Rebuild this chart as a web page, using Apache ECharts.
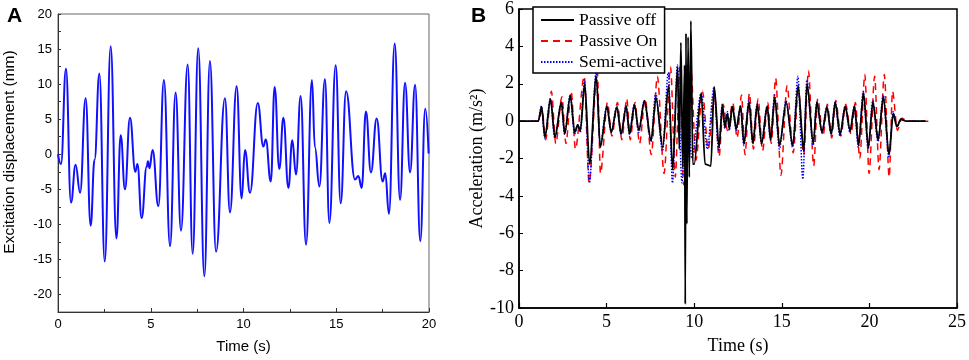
<!DOCTYPE html>
<html lang="en">
<head>
    <meta charset="UTF-8">
    <title>Excitation and acceleration</title>
    <script src="https://cdn.jsdelivr.net/npm/echarts@6/dist/echarts.min.js"></script>
    <style>
        html, body { margin: 0; padding: 0; background: #fff; }
    </style>
</head>
<body>
<div id="chart" style="width: 969px; height: 360px;"></div>

<script>
    // panel A: excitation displacement (mm) vs time (s), peaks and troughs
    var excitation = [
        [0, 0], [0.16, -1.4], [0.43, 12.2], [0.70, -6.9], [0.95, -1.5], [1.19, -5.5],
        [1.49, 8.0], [1.76, -10.2], [1.97, -0.8], [2.23, 11.5], [2.52, -15.3], [2.84, 15.4],
        [3.15, -12.0], [3.38, 2.7], [3.61, -5.0], [3.88, 5.2], [4.17, -2.5], [4.28, -1.4],
        [4.51, -9.1], [4.78, -1.8], [4.85, -1.0], [4.93, -2.0], [5.10, 0.6], [5.41, -7.4],
        [5.71, 10.6], [6.04, -13.1], [6.34, 8.8], [6.63, -10.9], [6.99, 12.8], [7.26, -14.2],
        [7.56, 15.1], [7.89, -17.4], [8.19, 13.3], [8.52, -13.9], [9.00, 8.0], [9.27, -8.3],
        [9.63, 9.7], [9.90, -6.3], [10.08, 0.6], [10.35, -5.5], [10.77, 7.3], [11.07, 1.1],
        [11.20, 2.1], [11.47, -3.9], [11.68, 9.6], [11.93, -2.1], [12.15, 5.2], [12.42, -4.8],
        [12.63, 2.0], [12.83, -2.9], [13.08, 8.3], [13.37, -12.9], [13.69, 10.6], [13.85, 1.0],
        [14.09, -4.6], [14.39, 10.7], [14.63, -9.8], [14.97, 12.7], [15.24, -7.0], [15.53, 9.0],
        [16.01, -3.6], [16.19, -3.1], [16.37, -4.8], [16.60, 6.1], [16.87, -2.6], [17.18, 5.1],
        [17.50, -3.9], [17.64, -2.7], [17.84, -8.5], [18.15, 15.8], [18.44, -6.5], [18.71, 10.2],
        [18.98, -2.6], [19.25, 9.9], [19.53, -12.4], [19.80, 6.5], [19.98, 0.1]
    ];

    // panel B: acceleration (m/s^2) vs time (s)
    var passiveOff = [
        [0, 0], [1.1, 0], [1.29, 0.77], [1.48, -0.86], [1.8, 1.18], [2.05, -0.86], [2.42, 1.0],
        [2.61, -0.68], [2.93, 1.36], [3.18, -0.6], [3.35, -0.2], [3.5, -0.5], [3.75, 2.0],
        [4.03, -2.3], [4.41, 2.4], [4.64, -1.4], [5.02, 0.77], [5.27, -0.6], [5.59, 0.75],
        [5.83, -0.7], [6.12, 0.8], [6.31, -0.7], [6.59, 0.87], [6.84, -0.5], [7.16, 1.09],
        [7.54, -1.04], [7.82, 1.25], [8.2, -1.4], [8.54, 1.9], [8.77, -2.6], [9.05, 2.9],
        [9.15, -1.5], [9.24, 4.2], [9.35, -2.5], [9.45, 3.0], [9.49, -9.8], [9.53, 4.7],
        [9.58, -5.5], [9.65, 4.5], [9.72, -3.0], [9.81, 5.36], [9.92, -2.3], [10.0, -2.3],
        [10.4, 1.5], [10.62, -2.3], [10.95, -2.4], [11.14, 1.84], [11.42, -1.4], [11.61, 0.87],
        [11.75, -0.3], [11.9, 0.4], [12.0, -0.4], [12.18, 0.77], [12.4, -0.4], [12.65, 0.8],
        [12.84, -1.2], [13.13, 1.0], [13.35, -1.2], [13.6, 0.9], [13.85, -1.2], [14.17, 0.8],
        [14.36, -1.0], [14.6, 1.25], [14.87, -1.3], [15.25, 1.0], [15.63, -1.3], [15.93, 1.9],
        [16.25, -1.6], [16.44, 2.0], [16.8, -1.2], [17.0, 1.0], [17.3, -0.6], [17.58, 0.75],
        [17.82, -0.7], [18.05, 1.0], [18.33, -0.7], [18.62, 0.8], [18.9, -0.5], [19.15, 0.8],
        [19.38, -1.3], [19.66, 1.5], [19.94, -1.4], [20.2, 1.0], [20.5, -1.0], [20.8, 1.3],
        [21.12, -1.8], [21.36, 0.4], [21.57, -0.3], [21.8, 0.1], [22.1, 0], [23.2, 0]
    ];
    var passiveOn = [
        [0, 0], [1.1, 0], [1.32, 0.6], [1.52, -1.0], [1.85, 1.6], [2.1, -1.2], [2.45, 1.3],
        [2.68, -1.2], [2.98, 1.6], [3.22, -1.5], [3.72, 2.4], [4.0, -3.3], [4.47, 2.7],
        [4.65, -2.8], [5.05, 1.0], [5.3, -0.8], [5.62, 1.0], [5.87, -1.0], [6.15, 1.2],
        [6.35, -1.0], [6.62, 1.0], [6.88, -1.2], [7.2, 1.2], [7.55, -1.8], [7.9, 2.4],
        [8.28, -2.8], [8.65, 2.9], [8.92, -3.0], [9.18, 2.9], [9.4, -3.4], [9.8, 3.0],
        [10.1, -2.1], [10.47, 1.6], [10.8, -1.5], [11.15, 1.5], [11.42, -1.9], [11.65, 0.9],
        [11.9, -0.5], [12.2, 1.0], [12.45, -0.9], [12.7, 1.4], [12.9, -1.8], [13.15, 1.5],
        [13.38, -1.5], [13.65, 1.2], [13.9, -1.6], [14.2, 1.0], [14.4, -1.2], [14.65, 2.3],
        [14.95, -2.9], [15.3, 1.9], [15.65, -1.7], [15.95, 1.7], [16.25, -1.8], [16.52, 2.7],
        [16.82, -2.4], [17.05, 1.2], [17.35, -0.8], [17.6, 0.9], [17.85, -0.9], [18.08, 1.1],
        [18.37, -0.8], [18.65, 0.9], [18.95, -0.7], [19.2, 1.0], [19.45, -2.0], [19.74, 2.5],
        [19.98, -2.8], [20.3, 2.4], [20.55, -2.6], [20.85, 2.5], [21.13, -3.0], [21.32, 1.6],
        [21.6, -0.5], [21.85, 0.15], [22.2, 0], [23.45, 0]
    ];
    var semiActive = [
        [0, 0], [1.1, 0], [1.28, 0.8], [1.47, -0.9], [1.79, 1.2], [2.04, -0.9], [2.41, 1.0],
        [2.6, -0.7], [2.92, 1.4], [3.17, -0.7], [3.35, -0.2], [3.5, -0.6], [3.74, 2.2],
        [4.02, -3.3], [4.4, 2.6], [4.63, -1.3], [5.01, 0.8], [5.26, -0.6], [5.58, 0.8],
        [5.82, -0.7], [6.11, 0.8], [6.3, -0.7], [6.58, 0.9], [6.83, -0.6], [7.15, 1.1],
        [7.53, -1.1], [7.8, 1.5], [8.19, -1.6], [8.52, 2.6], [8.76, -3.3], [9.04, 3.0],
        [9.3, -3.3], [9.6, 3.0], [9.85, -2.0], [10.4, 1.5], [10.75, -1.5], [11.12, 1.8],
        [11.4, -1.6], [11.6, 0.9], [11.75, -0.4], [11.9, 0.5], [12.0, -0.5], [12.17, 0.8],
        [12.4, -0.5], [12.64, 0.8], [12.83, -1.3], [13.12, 1.1], [13.34, -1.2], [13.59, 0.9],
        [13.84, -1.2], [14.16, 0.8], [14.35, -1.0], [14.59, 1.4], [14.86, -1.5], [15.24, 1.1],
        [15.62, -1.4], [15.92, 2.4], [16.2, -3.1], [16.43, 2.2], [16.79, -1.3], [16.99, 1.0],
        [17.29, -0.6], [17.57, 0.8], [17.81, -0.7], [18.04, 1.0], [18.32, -0.8], [18.61, 0.8],
        [18.89, -0.6], [19.14, 0.8], [19.37, -1.4], [19.65, 1.6], [19.93, -1.5], [20.19, 1.1],
        [20.49, -1.1], [20.79, 1.4], [21.11, -1.9], [21.35, 0.5], [21.56, -0.3], [21.8, 0.1],
        [22.1, 0], [23.2, 0]
    ];

    var sans = 'Liberation Sans, Arial, sans-serif';
    var serif = 'Liberation Serif, Times New Roman, serif';

    var chart = echarts.init(document.getElementById('chart'), null, { renderer: 'canvas' });

    chart.setOption({
        backgroundColor: '#fff',
        animation: false,
        title: [
            { text: 'A', left: 2, top: 1, textStyle: { fontFamily: sans, fontSize: 21, fontWeight: 'bold', color: '#000' } },
            { text: 'B', left: 466, top: 1, textStyle: { fontFamily: sans, fontSize: 21, fontWeight: 'bold', color: '#000' } }
        ],
        legend: {
            left: 533,
            top: 7,
            orient: 'vertical',
            itemWidth: 33,
            itemHeight: 14,
            itemGap: 3,
            padding: [4, 2, 2, 7],
            borderColor: '#000',
            borderWidth: 1.5,
            borderRadius: 0,
            backgroundColor: '#fff',
            // hide the marker that ECharts puts on the legend line
            itemStyle: { opacity: 0 },
            textStyle: { fontFamily: serif, fontSize: 17.5, color: '#000' },
            data: ['Passive off', 'Passive On', 'Semi-active']
        },
        grid: [
            { left: 58, top: 14, width: 371, height: 298, show: true, borderColor: '#666', borderWidth: 1, backgroundColor: 'transparent' },
            { left: 519, top: 7, width: 440, height: 301, show: true, borderColor: '#000', borderWidth: 1.5, backgroundColor: 'transparent' }
        ],
        xAxis: [
            {
                gridIndex: 0, type: 'value', min: 0, max: 20, interval: 5,
                name: 'Time (s)', nameLocation: 'middle', nameGap: 27,
                nameTextStyle: { fontFamily: sans, fontSize: 15, color: '#000' },
                axisLine: { onZero: false, lineStyle: { color: '#333', width: 1 } },
                axisTick: { inside: true, length: 4, lineStyle: { color: '#333' } },
                minorTick: { show: true, splitNumber: 2, length: 3, lineStyle: { color: '#333' } },
                axisLabel: { fontFamily: sans, fontSize: 13, color: '#000', margin: 6 },
                splitLine: { show: false }
            },
            {
                gridIndex: 1, type: 'value', min: 0, max: 25, interval: 5,
                name: 'Time (s)', nameLocation: 'middle', nameGap: 29,
                nameTextStyle: { fontFamily: serif, fontSize: 18, color: '#000' },
                axisLine: { onZero: false, lineStyle: { color: '#000', width: 1.5 } },
                axisTick: { inside: true, length: 5, lineStyle: { color: '#000', width: 1.2 } },
                axisLabel: { fontFamily: serif, fontSize: 18, color: '#000', margin: 5 },
                splitLine: { show: false }
            }
        ],
        yAxis: [
            {
                gridIndex: 0, type: 'value', min: -22.5, max: 20, interval: 2.5,
                name: 'Excitation displacement (mm)', nameLocation: 'middle', nameGap: 40,
                nameTextStyle: { fontFamily: sans, fontSize: 15.5, color: '#000', padding: [0, 0, 0, 22] },
                axisLine: { onZero: false, lineStyle: { color: '#333', width: 1 } },
                axisTick: { inside: true, length: 3, lineStyle: { color: '#333' } },
                axisLabel: {
                    fontFamily: sans, fontSize: 13, color: '#000', margin: 6,
                    formatter: function (v) { return v % 5 === 0 ? String(v) : ''; }
                },
                splitLine: { show: false }
            },
            {
                gridIndex: 1, type: 'value', min: -10, max: 6, interval: 2,
                name: 'Acceleration (m/s²)', nameLocation: 'middle', nameGap: 27,
                nameTextStyle: { fontFamily: serif, fontSize: 18, color: '#000' },
                axisLine: { onZero: false, lineStyle: { color: '#000', width: 1.5 } },
                axisTick: { inside: true, length: 4, lineStyle: { color: '#000' } },
                axisLabel: { fontFamily: serif, fontSize: 18, color: '#000', margin: 5 },
                splitLine: { show: false }
            }
        ],
        series: [
            {
                name: 'Excitation', type: 'line', xAxisIndex: 0, yAxisIndex: 0,
                data: excitation, symbol: 'none', smooth: 0.45, smoothMonotone: 'x',
                lineStyle: { color: '#1010ff', width: 2 }
            },
            {
                name: 'Passive On', type: 'line', xAxisIndex: 1, yAxisIndex: 1,
                data: passiveOn, symbol: 'none', smooth: 0.3, smoothMonotone: 'x',
                itemStyle: { color: '#ff0000' },
                lineStyle: { color: '#ff0000', width: 1.5, type: [7, 5] }
            },
            {
                name: 'Semi-active', type: 'line', xAxisIndex: 1, yAxisIndex: 1,
                data: semiActive, symbol: 'none', smooth: 0.3, smoothMonotone: 'x',
                itemStyle: { color: '#0000ff' },
                lineStyle: { color: '#0000ff', width: 1.5, type: [1.5, 1.5] }
            },
            {
                name: 'Passive off', type: 'line', xAxisIndex: 1, yAxisIndex: 1,
                data: passiveOff, symbol: 'none', smooth: 0.3, smoothMonotone: 'x',
                itemStyle: { color: '#000' },
                lineStyle: { color: '#000', width: 1.8 }
            }
        ]
    });
</script>
</body>
</html>
